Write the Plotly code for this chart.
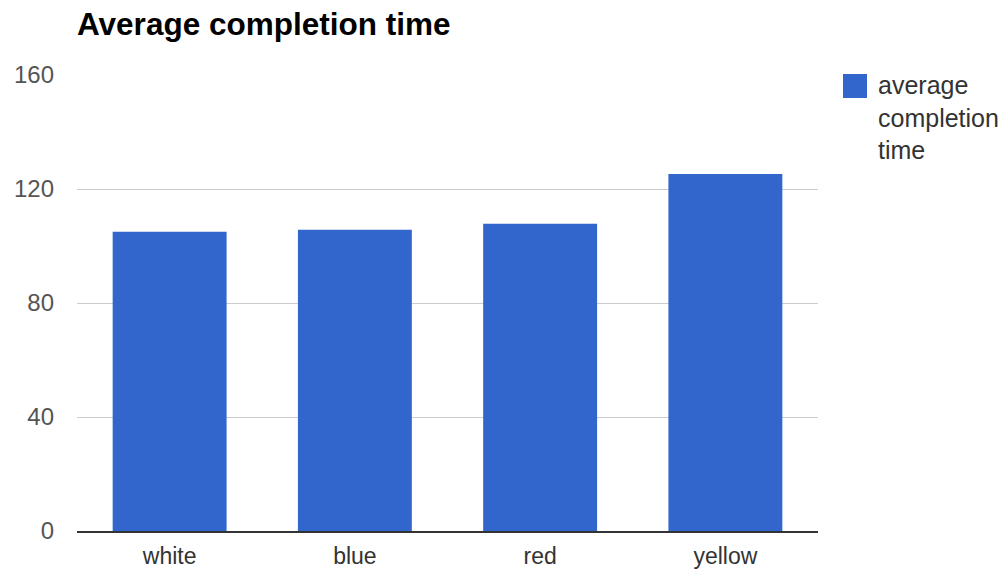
import plotly.graph_objects as go

categories = ["white", "blue", "red", "yellow"]
avg_time = [105.0, 105.7, 107.8, 125.3]
y_ticks = [0, 40, 80, 120, 160]
series_name = "average completion time"
bar_color = "#3366cc"

fig = go.Figure()
fig.add_trace(go.Bar(
    x=categories,
    y=avg_time,
    name=series_name,
    marker=dict(color=bar_color, line=dict(width=0)),
    width=0.615,
    showlegend=False,
))

# Legend drawn as a swatch plus wrapped label on the right
fig.add_shape(type="rect", xref="paper", yref="paper",
              x0=(843 - 77) / 741, x1=(867 - 77) / 741,
              y0=(531.5 - 98) / 456.5, y1=(531.5 - 74) / 456.5,
              fillcolor=bar_color, line=dict(width=0))
fig.add_annotation(xref="paper", yref="paper",
                   x=(876 - 77) / 741, y=(531.5 - 69) / 456.5,
                   xanchor="left", yanchor="top", align="left",
                   text="average<br>completion<br>time", showarrow=False,
                   font=dict(family="Liberation Sans, Arial", size=25, color="#333333"))

fig.update_layout(
    width=1003, height=571,
    margin=dict(l=77, r=185, t=75, b=40),
    paper_bgcolor="white", plot_bgcolor="white",
    title=dict(text="<b>Average completion time</b>", x=77 / 1003, xanchor="left",
               y=1 - 23.5 / 571, yanchor="middle",
               font=dict(family="Liberation Sans, Arial", size=31.5, color="#000000")),
    font=dict(family="Liberation Sans, Arial", size=24, color="#444444"),
    bargap=0.385,
    xaxis=dict(showline=True, linecolor="#333333", linewidth=2,
               showgrid=False, ticks="", ticklabelstandoff=3, automargin=False,
               tickfont=dict(size=23, color="#333333")),
    yaxis=dict(range=[0, 160], tickvals=y_ticks, showgrid=True,
               gridcolor="#cccccc", gridwidth=1, zeroline=False,
               ticks="", ticklabelstandoff=22, automargin=False,
               tickfont=dict(size=24, color="#555555")),
)

fig.write_html("out.html")
